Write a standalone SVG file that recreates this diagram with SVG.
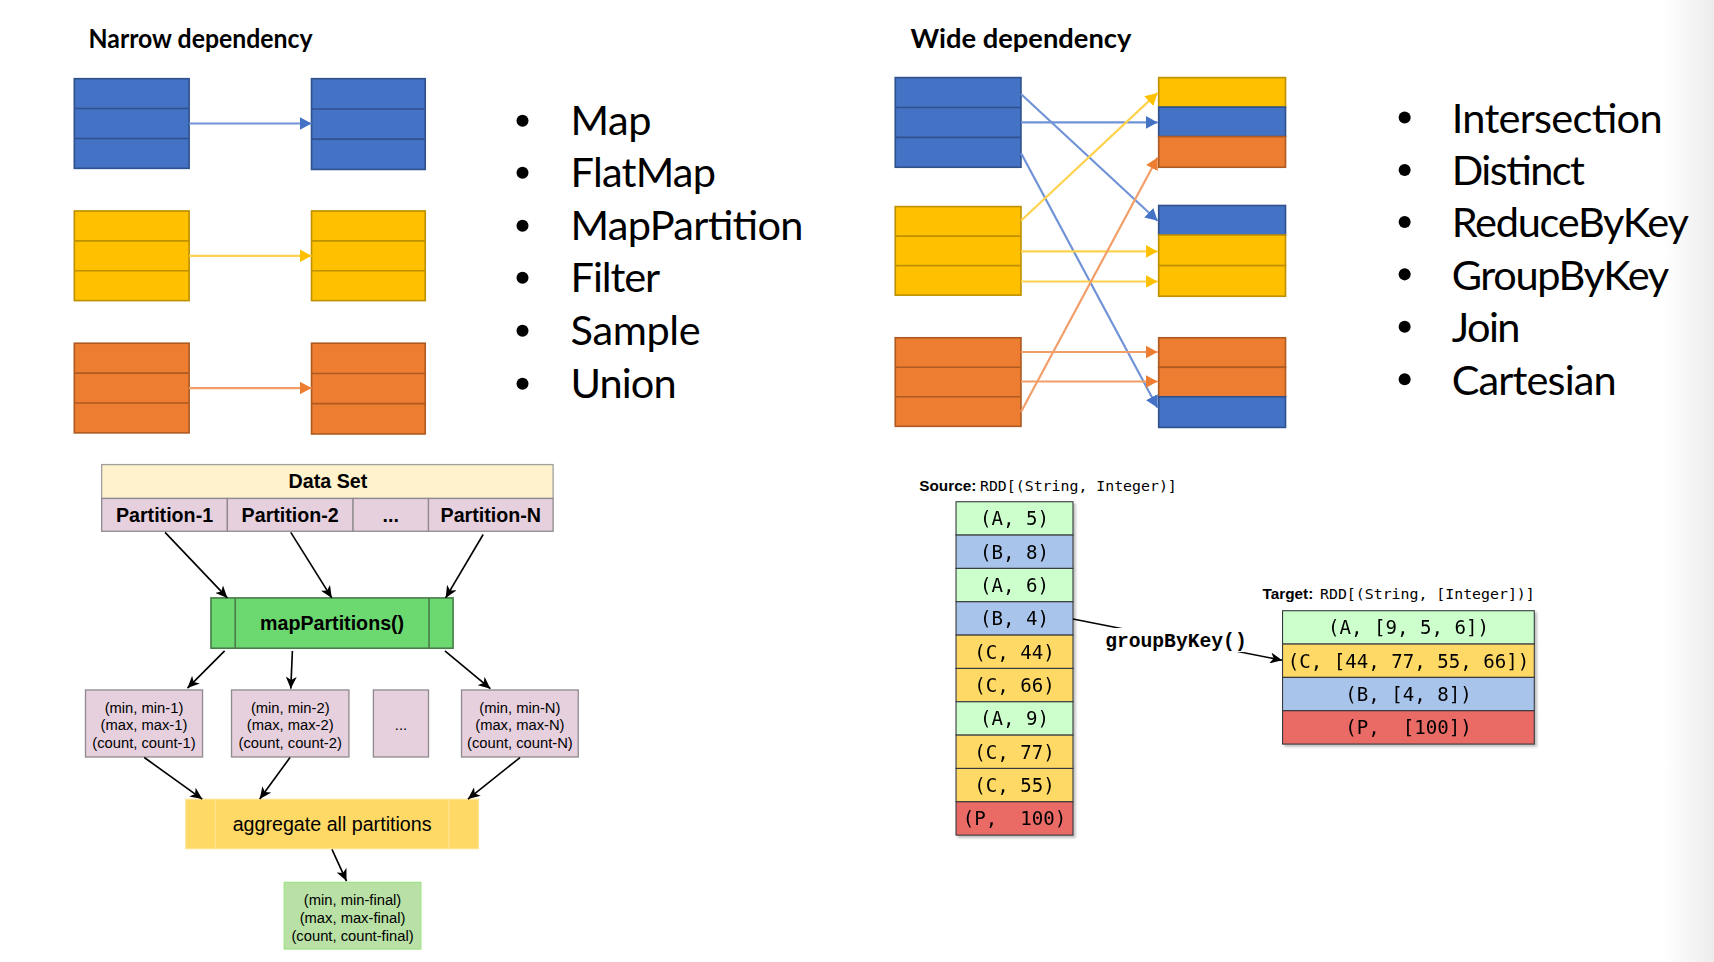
<svg xmlns="http://www.w3.org/2000/svg" width="1714" height="962" viewBox="0 0 1714 962">
<defs>
<style>
.title{font-family:Lato,"Liberation Sans",sans-serif;font-weight:bold;font-size:25px;fill:#000}
.bul{font-family:Lato,"Liberation Sans",sans-serif;font-size:38px;fill:#000}
.b{fill:#4472c4;stroke:#2f528f;stroke-width:1.5}
.y{fill:#ffc000;stroke:#bf9000;stroke-width:1.5}
.o{fill:#ed7d31;stroke:#ae5a21;stroke-width:1.5}
.lb{stroke:#6f93d6;stroke-width:2;fill:none}
.ly{stroke:#ffd24d;stroke-width:2;fill:none}
.lo{stroke:#f29e68;stroke-width:2;fill:none}
.lk{stroke:#000;stroke-width:1.5;fill:none}
.hb{font-family:"Liberation Sans",Arial,sans-serif;font-weight:bold;font-size:18px;fill:#000;text-anchor:middle}
.sm{font-family:"Liberation Sans",Arial,sans-serif;font-size:13.5px;fill:#000;text-anchor:middle}
.ag{font-family:"Liberation Sans",Arial,sans-serif;font-size:18px;fill:#000;text-anchor:middle}
.pk{fill:#e6d0de;stroke:#8f8a8d;stroke-width:1.2}
.mono{font-family:"DejaVu Sans Mono","Liberation Mono",monospace;font-size:17.5px;fill:#000;text-anchor:middle;white-space:pre}
.lab{font-family:"DejaVu Sans Mono","Liberation Mono",monospace;font-size:13.6px;fill:#000;white-space:pre}
.labb{font-family:"Liberation Sans",Arial,sans-serif;font-weight:bold;font-size:14px;fill:#000}
.g{fill:#ccffcc;stroke:#36393d;stroke-width:1}
.bl{fill:#a9c4eb;stroke:#36393d;stroke-width:1}
.yl{fill:#ffd966;stroke:#36393d;stroke-width:1}
.r{fill:#ea6b66;stroke:#36393d;stroke-width:1}
</style>
<marker id="mb" markerUnits="userSpaceOnUse" markerWidth="12" markerHeight="12" refX="11" refY="6" orient="auto"><path d="M0,0 L11,6 L0,12 z" fill="#4472c4"/></marker>
<marker id="my" markerUnits="userSpaceOnUse" markerWidth="12" markerHeight="12" refX="11" refY="6" orient="auto"><path d="M0,0 L11,6 L0,12 z" fill="#ffc000"/></marker>
<marker id="mo" markerUnits="userSpaceOnUse" markerWidth="12" markerHeight="12" refX="11" refY="6" orient="auto"><path d="M0,0 L11,6 L0,12 z" fill="#ed7d31"/></marker>
<marker id="mk" markerUnits="userSpaceOnUse" markerWidth="12" markerHeight="10" refX="11" refY="5" orient="auto"><path d="M0,0 L11,5 L0,10 L3,5 z" fill="#000"/></marker>
<filter id="sh" x="-10%" y="-10%" width="130%" height="130%"><feDropShadow dx="2" dy="2" stdDeviation="1.2" flood-color="#000" flood-opacity="0.25"/></filter>
<linearGradient id="edge" x1="0" y1="0" x2="1" y2="0"><stop offset="0" stop-color="#ffffff"/><stop offset="1" stop-color="#ececec"/></linearGradient>
</defs>
<rect width="1714" height="962" fill="#fff"/>
<g transform="scale(1.09311)">
<rect x="1522" y="0" width="46" height="880" fill="url(#edge)"/>

<g id="narrow-title"><text class="title" x="81" y="44" textLength="205" lengthAdjust="spacingAndGlyphs">Narrow dependency</text></g>
<g id="wide-title"><text class="title" x="833" y="44" textLength="202" lengthAdjust="spacingAndGlyphs">Wide dependency</text></g>

<!-- narrow boxes -->
<g id="n-blue-src"><rect class="b" x="68" y="72" width="105" height="82"/><line class="b" x1="68" y1="99.3" x2="173" y2="99.3"/><line class="b" x1="68" y1="126.7" x2="173" y2="126.7"/></g>
<g id="n-blue-dst"><rect class="b" x="285" y="72" width="104" height="83"/><line class="b" x1="285" y1="99.7" x2="389" y2="99.7"/><line class="b" x1="285" y1="127.3" x2="389" y2="127.3"/></g>
<g id="n-yel-src"><rect class="y" x="68" y="193" width="105" height="82"/><line class="y" x1="68" y1="220.3" x2="173" y2="220.3"/><line class="y" x1="68" y1="247.7" x2="173" y2="247.7"/></g>
<g id="n-yel-dst"><rect class="y" x="285" y="193" width="104" height="82"/><line class="y" x1="285" y1="220.3" x2="389" y2="220.3"/><line class="y" x1="285" y1="247.7" x2="389" y2="247.7"/></g>
<g id="n-or-src"><rect class="o" x="68" y="314" width="105" height="82"/><line class="o" x1="68" y1="341.3" x2="173" y2="341.3"/><line class="o" x1="68" y1="368.7" x2="173" y2="368.7"/></g>
<g id="n-or-dst"><rect class="o" x="285" y="314" width="104" height="83"/><line class="o" x1="285" y1="341.7" x2="389" y2="341.7"/><line class="o" x1="285" y1="369.3" x2="389" y2="369.3"/></g>

<!-- wide boxes -->
<g id="w-blue-src"><rect class="b" x="819" y="71" width="115" height="82"/><line class="b" x1="819" y1="98.3" x2="934" y2="98.3"/><line class="b" x1="819" y1="125.7" x2="934" y2="125.7"/></g>
<g id="w-yel-src"><rect class="y" x="819" y="189" width="115" height="81"/><line class="y" x1="819" y1="216" x2="934" y2="216"/><line class="y" x1="819" y1="243" x2="934" y2="243"/></g>
<g id="w-or-src"><rect class="o" x="819" y="309" width="115" height="81"/><line class="o" x1="819" y1="336" x2="934" y2="336"/><line class="o" x1="819" y1="363" x2="934" y2="363"/></g>
<g id="w-dst-1"><rect class="y" x="1060" y="71" width="116" height="27"/><rect class="b" x="1060" y="98" width="116" height="27"/><rect class="o" x="1060" y="125" width="116" height="28"/></g>
<g id="w-dst-2"><rect class="b" x="1060" y="188" width="116" height="27"/><rect class="y" x="1060" y="215" width="116" height="28"/><rect class="y" x="1060" y="243" width="116" height="28"/></g>
<g id="w-dst-3"><rect class="o" x="1060" y="309" width="116" height="27"/><rect class="o" x="1060" y="336" width="116" height="27"/><rect class="b" x="1060" y="363" width="116" height="28"/></g>

<!-- bullets -->
<g id="list-narrow">
<circle cx="478" cy="110.5" r="5.5"/><text class="bul" x="522" y="123.5" textLength="74">Map</text>
<circle cx="478" cy="158" r="5.5"/><text class="bul" x="522" y="171" textLength="133">FlatMap</text>
<circle cx="478" cy="206.5" r="5.5"/><text class="bul" x="522" y="219.5" textLength="213">MapPartition</text>
<circle cx="478" cy="254" r="5.5"/><text class="bul" x="522" y="267" textLength="82">Filter</text>
<circle cx="478" cy="302.5" r="5.5"/><text class="bul" x="522" y="315.5" textLength="119">Sample</text>
<circle cx="478" cy="351" r="5.5"/><text class="bul" x="522" y="364" textLength="97">Union</text>
</g>
<g id="list-wide">
<circle cx="1285" cy="107.5" r="5.5"/><text class="bul" x="1328" y="121.5" textLength="193">Intersection</text>
<circle cx="1285" cy="155.5" r="5.5"/><text class="bul" x="1328" y="169.5" textLength="122">Distinct</text>
<circle cx="1285" cy="203" r="5.5"/><text class="bul" x="1328" y="217" textLength="217">ReduceByKey</text>
<circle cx="1285" cy="251" r="5.5"/><text class="bul" x="1328" y="265" textLength="199">GroupByKey</text>
<circle cx="1285" cy="299" r="5.5"/><text class="bul" x="1328" y="313" textLength="63">Join</text>
<circle cx="1285" cy="347" r="5.5"/><text class="bul" x="1328" y="361" textLength="151">Cartesian</text>
</g>

<!-- flowchart nodes -->
<g id="dataset">
<rect x="93" y="425" width="413" height="31" fill="#fff2cc" stroke="#a0a0a0" stroke-width="1.2"/>
<text class="hb" x="300" y="446.7">Data Set</text>
</g>
<g id="partitions">
<rect class="pk" x="93" y="456" width="115" height="30"/><text class="hb" x="150.5" y="477.2">Partition-1</text>
<rect class="pk" x="208" y="456" width="115" height="30"/><text class="hb" x="265.5" y="477.2">Partition-2</text>
<rect class="pk" x="323" y="456" width="69" height="30"/><text class="hb" x="357.5" y="477.2">...</text>
<rect class="pk" x="392" y="456" width="114" height="30"/><text class="hb" x="449" y="477.2">Partition-N</text>
</g>
<g id="mapPartitions">
<rect x="193" y="547" width="221.5" height="46" fill="#6cd870" stroke="#4a7f4c" stroke-width="1.5"/>
<line x1="215.2" y1="547" x2="215.2" y2="593" stroke="#4a7f4c" stroke-width="1.5"/>
<line x1="392.5" y1="547" x2="392.5" y2="593" stroke="#4a7f4c" stroke-width="1.5"/>
<text class="hb" x="303.8" y="576.3">mapPartitions()</text>
</g>
<g id="res-1"><rect class="pk" x="78.2" y="631.2" width="107.1" height="61.3"/><text class="sm" x="131.7" y="652">(min, min-1)</text><text class="sm" x="131.7" y="668">(max, max-1)</text><text class="sm" x="131.7" y="684">(count, count-1)</text></g>
<g id="res-2"><rect class="pk" x="211.8" y="631.2" width="107.4" height="61.3"/><text class="sm" x="265.5" y="652">(min, min-2)</text><text class="sm" x="265.5" y="668">(max, max-2)</text><text class="sm" x="265.5" y="684">(count, count-2)</text></g>
<g id="res-dots"><rect class="pk" x="341.6" y="631.2" width="50.4" height="61.3"/><text class="sm" x="366.8" y="668">...</text></g>
<g id="res-n"><rect class="pk" x="422.2" y="631.2" width="106.8" height="61.3"/><text class="sm" x="475.6" y="652">(min, min-N)</text><text class="sm" x="475.6" y="668">(max, max-N)</text><text class="sm" x="475.6" y="684">(count, count-N)</text></g>
<g id="aggregate">
<rect x="170" y="731.2" width="267.6" height="45.2" fill="#ffd966" stroke="#ffe48f" stroke-width="1.2"/>
<line x1="197" y1="731.2" x2="197" y2="776.4" stroke="#ffe48f" stroke-width="1.2"/>
<line x1="410.8" y1="731.2" x2="410.8" y2="776.4" stroke="#ffe48f" stroke-width="1.2"/>
<text class="ag" x="303.8" y="760.2">aggregate all partitions</text>
</g>
<g id="final"><rect x="260" y="807.2" width="125" height="61" fill="#b9e0a5" stroke="#a3e38c" stroke-width="1.2"/><text class="sm" x="322.5" y="828">(min, min-final)</text><text class="sm" x="322.5" y="844.2">(max, max-final)</text><text class="sm" x="322.5" y="860.4">(count, count-final)</text></g>

<!-- RDD stacks -->
<g id="source-label"><text class="labb" x="841" y="448.9">Source:</text><text class="lab" x="896.5" y="448.9">RDD[(String, Integer)]</text></g>
<g id="source-rdd" filter="url(#sh)">
<rect class="g" x="874.6" y="459" width="107" height="30.5"/><text class="mono" x="928" y="480.5">(A, 5)</text>
<rect class="bl" x="874.6" y="489.5" width="107" height="30.5"/><text class="mono" x="928" y="511">(B, 8)</text>
<rect class="g" x="874.6" y="520" width="107" height="30.5"/><text class="mono" x="928" y="541.5">(A, 6)</text>
<rect class="bl" x="874.6" y="550.5" width="107" height="30.5"/><text class="mono" x="928" y="572">(B, 4)</text>
<rect class="yl" x="874.6" y="581" width="107" height="30.5"/><text class="mono" x="928" y="602.5">(C, 44)</text>
<rect class="yl" x="874.6" y="611.5" width="107" height="30.5"/><text class="mono" x="928" y="633">(C, 66)</text>
<rect class="g" x="874.6" y="642" width="107" height="30.5"/><text class="mono" x="928" y="663.5">(A, 9)</text>
<rect class="yl" x="874.6" y="672.5" width="107" height="30.5"/><text class="mono" x="928" y="694">(C, 77)</text>
<rect class="yl" x="874.6" y="703" width="107" height="30.5"/><text class="mono" x="928" y="724.5">(C, 55)</text>
<rect class="r" x="874.6" y="733.5" width="107" height="30.5"/><text class="mono" x="928" y="755">(P,  100)</text>
</g>
<g id="target-label"><text class="labb" x="1155" y="548.3">Target:</text><text class="lab" x="1207.6" y="548.3">RDD[(String, [Integer])]</text></g>
<g id="target-rdd" filter="url(#sh)">
<rect class="g" x="1173.3" y="558.7" width="230.3" height="30.5"/><text class="mono" x="1288.5" y="580.2">(A, [9, 5, 6])</text>
<rect class="yl" x="1173.3" y="589.2" width="230.3" height="30.5"/><text class="mono" x="1288.5" y="610.7">(C, [44, 77, 55, 66])</text>
<rect class="bl" x="1173.3" y="619.7" width="230.3" height="30.5"/><text class="mono" x="1288.5" y="641.2">(B, [4, 8])</text>
<rect class="r" x="1173.3" y="650.2" width="230.3" height="30.5"/><text class="mono" x="1288.5" y="671.7">(P,  [100])</text>
</g>

<g id="connectors">
<line class="lb" x1="173" y1="113" x2="285" y2="113" marker-end="url(#mb)"/>
<line class="ly" x1="173" y1="234" x2="285" y2="234" marker-end="url(#my)"/>
<line class="lo" x1="173" y1="355" x2="285" y2="355" marker-end="url(#mo)"/>

<line class="lb" x1="934" y1="86" x2="1059" y2="202" marker-end="url(#mb)"/>
<line class="lb" x1="934" y1="112" x2="1059" y2="112" marker-end="url(#mb)"/>
<line class="lb" x1="934" y1="140" x2="1059" y2="373" marker-end="url(#mb)"/>
<line class="ly" x1="934" y1="202" x2="1059" y2="85" marker-end="url(#my)"/>
<line class="ly" x1="934" y1="230" x2="1059" y2="230" marker-end="url(#my)"/>
<line class="ly" x1="934" y1="257.5" x2="1059" y2="257.5" marker-end="url(#my)"/>
<line class="lo" x1="934" y1="322" x2="1059" y2="322" marker-end="url(#mo)"/>
<line class="lo" x1="934" y1="349" x2="1059" y2="349" marker-end="url(#mo)"/>
<line class="lo" x1="934" y1="377" x2="1059" y2="144" marker-end="url(#mo)"/>

<line class="lk" x1="151" y1="487" x2="208" y2="547" marker-end="url(#mk)"/>
<line class="lk" x1="266" y1="487" x2="303.5" y2="547" marker-end="url(#mk)"/>
<line class="lk" x1="442" y1="489" x2="407.7" y2="547" marker-end="url(#mk)"/>
<line class="lk" x1="205.5" y1="595.5" x2="171.5" y2="629.5" marker-end="url(#mk)"/>
<line class="lk" x1="267.5" y1="595.5" x2="266" y2="630" marker-end="url(#mk)"/>
<line class="lk" x1="407" y1="595.5" x2="448.6" y2="630" marker-end="url(#mk)"/>
<line class="lk" x1="132" y1="693" x2="185" y2="731" marker-end="url(#mk)"/>
<line class="lk" x1="265.3" y1="693" x2="237.6" y2="731" marker-end="url(#mk)"/>
<line class="lk" x1="475.7" y1="693" x2="428.1" y2="731" marker-end="url(#mk)"/>
<line class="lk" x1="303.7" y1="777" x2="317" y2="806" marker-end="url(#mk)"/>

<line class="lk" x1="981.6" y1="566.3" x2="1173" y2="604" marker-end="url(#mk)"/>
<rect x="1006" y="574.5" width="136" height="22" fill="#fff"/>
<text x="1011" y="591.6" font-family="Liberation Mono, Courier New, monospace" font-weight="bold" font-size="18" fill="#000">groupByKey()</text>
</g>
</g>
</svg>
